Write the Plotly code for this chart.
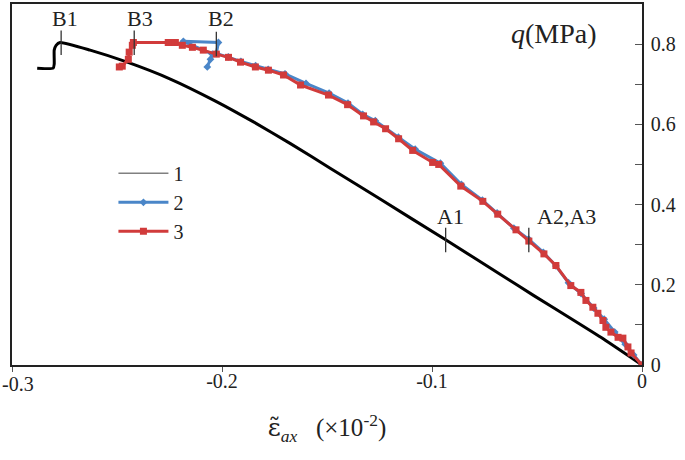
import plotly.graph_objects as go

# ---- data (strain ×10^-2, q in MPa) ----
s1_x = [-0.288, -0.2804, -0.2799, -0.2799, -0.2790, -0.2771, -0.2628, -0.2451, -0.2246,
        -0.2031, -0.1850, -0.1674, -0.1483, -0.1245, -0.0935, -0.0672, -0.0515, -0.0339,
        -0.0196, 0.0]
s1_q = [0.740, 0.740, 0.750, 0.785, 0.797, 0.804, 0.785, 0.755, 0.713,
        0.658, 0.606, 0.552, 0.490, 0.413, 0.312, 0.225, 0.173, 0.116,
        0.069, 0.0]

s2_x = [0.0, -0.0040, -0.0080, -0.0130, -0.0180, -0.0230, -0.0290, -0.0350, -0.0410,
        -0.0470, -0.0540, -0.0610, -0.0690, -0.0760, -0.0860, -0.0960, -0.1080, -0.1160,
        -0.1270, -0.1330, -0.1400, -0.1490, -0.1600, -0.1700, -0.1780, -0.1840, -0.1910,
        -0.1970, -0.2027, -0.2017, -0.2184, -0.2046, -0.2055, -0.2070]
s2_q = [0.0, 0.025, 0.052, 0.082, 0.114, 0.142, 0.178, 0.205, 0.247,
        0.281, 0.314, 0.341, 0.379, 0.411, 0.450, 0.503, 0.538, 0.568,
        0.609, 0.625, 0.653, 0.678, 0.702, 0.726, 0.737, 0.746, 0.757,
        0.768, 0.777, 0.804, 0.807, 0.775, 0.762, 0.743]

s3_x = [0.0, -0.0052, -0.0067, -0.0091, -0.0114, -0.0148, -0.0172, -0.0186, -0.0210,
        -0.0234, -0.0267, -0.0291, -0.0339, -0.0410, -0.0467, -0.0539, -0.0600, -0.0687,
        -0.0758, -0.0863, -0.0968, -0.0997, -0.1092, -0.1159, -0.1221, -0.1278, -0.1326,
        -0.1402, -0.1493, -0.1626, -0.1707, -0.1779, -0.1841, -0.1912, -0.1969, -0.2027,
        -0.2089, -0.2141, -0.2189, -0.2222, -0.2241, -0.2256, -0.2422, -0.2427, -0.2442,
        -0.2446, -0.2475, -0.2489]
s3_q = [0.0, 0.030, 0.045, 0.067, 0.069, 0.082, 0.094, 0.111, 0.129,
        0.144, 0.161, 0.181, 0.198, 0.248, 0.277, 0.309, 0.337, 0.376,
        0.408, 0.446, 0.500, 0.505, 0.535, 0.564, 0.589, 0.606, 0.621,
        0.649, 0.673, 0.698, 0.723, 0.735, 0.743, 0.755, 0.767, 0.775,
        0.785, 0.792, 0.797, 0.804, 0.804, 0.804, 0.804, 0.797, 0.780,
        0.762, 0.745, 0.743]

point_labels = ["B1", "B3", "B2", "A1", "A2,A3"]
point_x = [-0.2766, -0.2418, -0.2027, -0.0935, -0.0539]
point_q = [0.803, 0.803, 0.80, 0.311, 0.311]
label_x = [-0.2747, -0.2389, -0.2003, -0.0911, -0.0358]
label_q = [0.864, 0.864, 0.864, 0.371, 0.371]

x_ticks = [-0.3, -0.2, -0.1, 0]
x_ticktext = ["", "-0.2", "-0.1", "0"]
first_tick_text = "-0.3"

FONT = "Liberation Serif"
BLUE = "#4a86c8"
RED = "#d13b3b"

fig = go.Figure()
fig.add_trace(go.Scatter(x=s1_x, y=s1_q, mode="lines", showlegend=False,
                         line=dict(color="black", width=3, shape="spline", smoothing=0.5)))
fig.add_trace(go.Scatter(x=[None], y=[None], mode="lines", name="1",
                         line=dict(color="#808080", width=1.5)))
fig.add_trace(go.Scatter(x=s2_x, y=s2_q, mode="lines+markers", name="2",
                         line=dict(color=BLUE, width=3),
                         marker=dict(symbol="diamond", size=6, color=BLUE)))
fig.add_trace(go.Scatter(x=s3_x, y=s3_q, mode="lines+markers", name="3",
                         line=dict(color=RED, width=3),
                         marker=dict(symbol="square", size=7, color=RED)))

for i, lab in enumerate(point_labels):
    fig.add_shape(type="line", x0=point_x[i], x1=point_x[i],
                  y0=point_q[i] - 0.03, y1=point_q[i] + 0.031,
                  line=dict(color="#333333", width=1.3))
    fig.add_annotation(x=label_x[i], y=label_q[i], text=lab, showarrow=False,
                       font=dict(family=FONT, size=22, color="#222"))

fig.add_annotation(x=-0.0205, y=0.827, text="<i>q</i>(MPa)", showarrow=False,
                   xanchor="right", yanchor="middle",
                   font=dict(family=FONT, size=28, color="#222"))

# left-most x tick label, kept inside the page
fig.add_annotation(x=0, y=0, xref="paper", yref="paper", xshift=-12, yshift=-6,
                   xanchor="left", yanchor="top", text=first_tick_text, showarrow=False,
                   font=dict(family=FONT, size=20, color="#222"))

fig.update_layout(
    width=685, height=460,
    margin=dict(l=12, r=43, t=2, b=95),
    plot_bgcolor="white", paper_bgcolor="white",
    font=dict(family=FONT, size=20, color="#222"),
    legend=dict(x=0.161, y=0.585, xanchor="left", yanchor="top", itemwidth=50,
                bgcolor="rgba(0,0,0,0)", font=dict(family=FONT, size=20),
                tracegroupgap=0),
    xaxis=dict(range=[-0.3, 0], tickvals=x_ticks, ticktext=x_ticktext,
               ticks="outside", ticklen=5, tickcolor="#555", ticklabelstandoff=-8,
               showline=True, linecolor="#222", linewidth=1.5, mirror=True,
               showgrid=False, zeroline=False,
               title=dict(text="<span style=\"font-family:'DejaVu Serif'\">ε̃</span><sub><i>ax</i></sub>   (×10<sup>-2</sup>)",
                          font=dict(family=FONT, size=25), standoff=28)),
    yaxis=dict(range=[0, 0.9], side="right", dtick=0.2, tick0=0,
               ticks="inside", ticklen=7, tickcolor="#555",
               minor=dict(dtick=0.1, ticks="inside", ticklen=7, tickcolor="#555"),
               showline=True, linecolor="#222", linewidth=1.5, mirror=True,
               showgrid=False, zeroline=False, ticklabelstandoff=3),
)

fig.write_html("out.html", config={"displayModeBar": False},
               post_script="document.body.style.margin='0';")
